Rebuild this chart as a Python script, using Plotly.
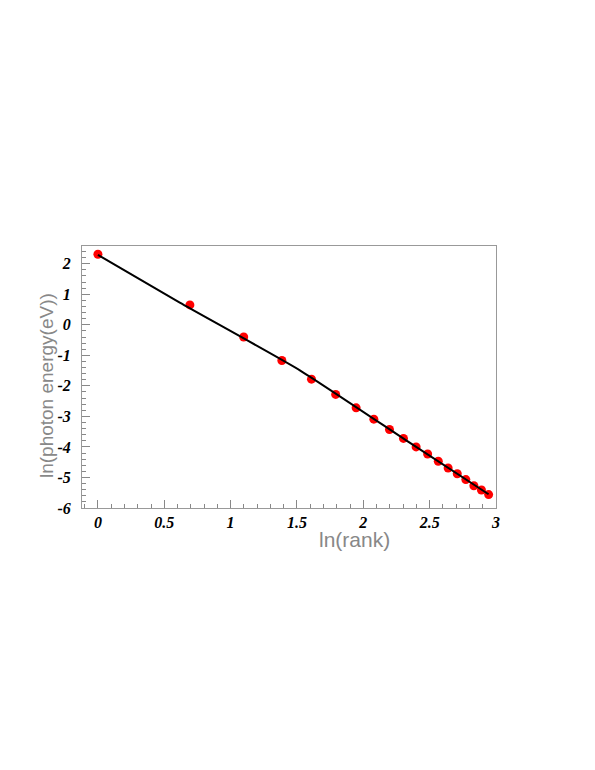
"""
Rank plot: ln(photon energy) vs ln(rank) with fitted curve
"""

import numpy as np
import plotly.graph_objects as go

rank = [1, 2, 3, 4, 5, 6, 7, 8, 9, 10, 11, 12, 13, 14, 15, 16, 17, 18, 19]
ln_energy = [2.31, 0.65, -0.40, -1.17, -1.78, -2.28, -2.72, -3.09, -3.43, -3.72,
             -4.00, -4.23, -4.47, -4.69, -4.88, -5.07, -5.27, -5.41, -5.56]

# fitted curve, nodes
fit_x = [0.0, 0.617, 1.522, 2.352, 2.944]
fit_y = [2.29, 0.725, -1.49, -3.87, -5.55]

# tick labels (plain hyphen minus as in the original)
x_ticks = [0, 0.5, 1, 1.5, 2, 2.5, 3]
x_labels = ['0', '0.5', '1', '1.5', '2', '2.5', '3']
y_ticks = [2, 1, 0, -1, -2, -3, -4, -5, -6]
y_labels = ['2', '1', '0', '-1', '-2', '-3', '-4', '-5', '-6']

ln_rank = np.log(rank)

fig = go.Figure()

fig.add_trace(go.Scatter(
    x=ln_rank, y=ln_energy,
    mode='markers',
    marker=dict(color='#ff0000', size=9, line=dict(width=0)),
    showlegend=False,
))

fig.add_trace(go.Scatter(
    x=fit_x, y=fit_y,
    mode='lines',
    line=dict(color='black', width=2, shape='spline', smoothing=0.5),
    showlegend=False,
))

tick_font = dict(family='Liberation Serif', size=16, color='black',
                 weight='bold', style='italic')
axis_common = dict(
    showline=True, linecolor='#999999', linewidth=1, mirror=True,
    showgrid=False, zeroline=False,
    ticks='inside', tickcolor='#888888', ticklen=8, tickwidth=1,
    tickfont=tick_font,
)

fig.update_xaxes(
    range=[-0.12, 3.0], tickvals=x_ticks, ticktext=x_labels,
    minor=dict(tick0=0, dtick=0.1, ticks='inside', ticklen=4, tickcolor='#888888'),
    **axis_common,
)
fig.update_yaxes(
    range=[-6, 2.58], tickvals=y_ticks, ticktext=y_labels, ticklabelstandoff=7,
    minor=dict(tick0=0, dtick=0.2, ticks='inside', ticklen=4, tickcolor='#888888'),
    **axis_common,
)

title_font = dict(family='Liberation Sans', color='#888888')
fig.add_annotation(
    text='ln(rank)', xref='paper', yref='paper', x=0.659, y=-0.122,
    xanchor='center', yanchor='middle', showarrow=False, borderpad=0,
    font=dict(size=21, **title_font),
)
fig.add_annotation(
    text='ln(photon energy(eV))', xref='paper', yref='paper', x=-0.086, y=0.467,
    xanchor='center', yanchor='middle', showarrow=False, textangle=-90, borderpad=0,
    font=dict(size=19, **title_font),
)

# page body has an 8px margin, so the figure is offset by that much
fig.update_layout(
    width=587, height=762,
    margin=dict(l=74, r=99, t=238, b=262),
    plot_bgcolor='white',
    paper_bgcolor='white',
)

fig.write_html("out.html")
